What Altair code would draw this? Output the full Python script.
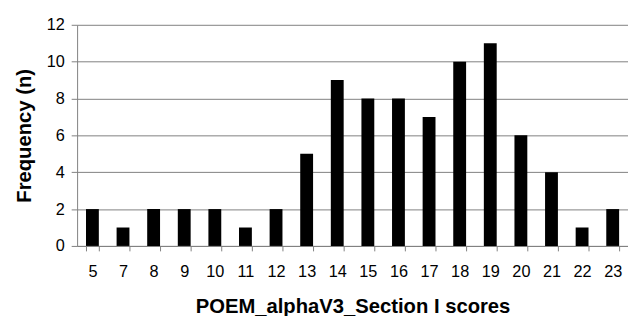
import altair as alt
import pandas as pd

scores = ["5", "7", "8", "9", "10", "11", "12", "13", "14", "15", "16", "17", "18", "19", "20", "21", "22", "23"]
freq = [2, 1, 2, 2, 2, 1, 2, 5, 9, 8, 8, 7, 10, 11, 6, 4, 1, 2]

df = pd.DataFrame({"score": scores, "n": freq})

chart = alt.Chart(df).mark_bar(color="black").encode(
    x=alt.X("score:N", sort=scores,
            scale=alt.Scale(paddingInner=0.58, paddingOuter=0.29),
            axis=alt.Axis(title="POEM_alphaV3_Section I scores", labelAngle=0,
                          tickBand="extent", grid=False, tickSize=5,
                          labelPadding=13, titlePadding=17)),
    y=alt.Y("n:Q", scale=alt.Scale(domain=[0, 12]),
            axis=alt.Axis(title="Frequency (n)", values=[0, 2, 4, 6, 8, 10, 12],
                          tickSize=6, labelPadding=7, titlePadding=12)),
).properties(
    width=558, height=224,
    padding={"top": 7, "left": 6, "right": 0, "bottom": 0},
).configure_axis(
    labelFont="Liberation Sans", labelFontSize=16.5, labelColor="#000000",
    titleFont="Liberation Sans", titleFontSize=20.5, titleFontWeight="bold", titleColor="#000000",
    domainColor="#808080", tickColor="#808080", gridColor="#808080",
    gridOpacity=1, domainWidth=1, tickWidth=1, gridWidth=1,
).configure_view(stroke=None)

chart.save("out.html", embed_options={"renderer": "svg", "actions": False})
